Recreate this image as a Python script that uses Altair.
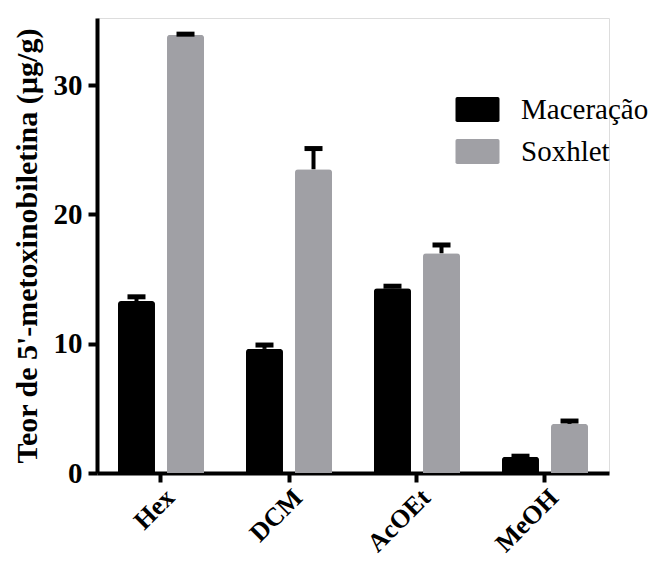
import altair as alt
import pandas as pd

categories = ["Hex", "DCM", "AcOEt", "MeOH"]
methods = ["Maceração", "Soxhlet"]
maceracao = [13.3, 9.6, 14.3, 1.25]
maceracao_err = [0.33, 0.3, 0.15, 0.05]
soxhlet = [33.9, 23.5, 17.0, 3.8]
soxhlet_err = [0.05, 1.6, 0.64, 0.22]
y_ticks = [0, 10, 20, 30]

rows = []
for i, c in enumerate(categories):
    rows.append({"cat": c, "method": methods[0], "value": maceracao[i],
                 "upper": maceracao[i] + maceracao_err[i]})
    rows.append({"cat": c, "method": methods[1], "value": soxhlet[i],
                 "upper": soxhlet[i] + soxhlet_err[i]})
df = pd.DataFrame(rows)

FONT = "Liberation Serif"

x_enc = alt.X("cat:N", sort=categories,
              scale=alt.Scale(paddingInner=0.328, paddingOuter=0.164),
              axis=alt.Axis(title=None, labelAngle=-45, labelFontSize=26,
                            labelFontWeight="bold", labelFont=FONT,
                            labelColor="black", domainColor="black",
                            domainWidth=4, tickColor="black", tickWidth=4,
                            tickSize=9, labelPadding=2, grid=False))
xo_enc = alt.XOffset("method:N", sort=methods,
                     scale=alt.Scale(paddingInner=0.245, paddingOuter=0))

y_scale = alt.Scale(domain=[0, 35.2], nice=False)

base = alt.Chart(df).encode(x=x_enc, xOffset=xo_enc)

bars = base.mark_bar(cornerRadiusTopLeft=3, cornerRadiusTopRight=3).encode(
    y=alt.Y("value:Q", scale=y_scale,
            axis=alt.Axis(title="Teor de 5'-metoxinobiletina (µg/g)",
                          titleFontSize=30, titleFontWeight="bold",
                          titleFont=FONT, titleColor="black", titlePadding=11,
                          values=y_ticks, labelFontSize=29,
                          labelFontWeight="bold", labelFont=FONT,
                          labelColor="black", labelPadding=6,
                          domainColor="black", domainWidth=4,
                          tickColor="black", tickWidth=4, tickSize=9,
                          grid=False)),
    color=alt.Color("method:N", sort=methods,
                    scale=alt.Scale(domain=methods, range=["#000000", "#a0a0a5"]),
                    legend=alt.Legend(title=None, orient="none", legendX=366,
                                      legendY=77, padding=0,
                                      symbolType="M-1.76,-0.86 Q-1.76,-1 -1.62,-1 H1.62 Q1.76,-1 1.76,-0.86 V0.86 Q1.76,1 1.62,1 H-1.62 Q-1.76,1 -1.76,0.86 Z",
                                      symbolSize=625, symbolStrokeWidth=0,
                                      symbolOpacity=1, labelFontSize=29,
                                      labelFont=FONT, labelColor="black",
                                      labelOffset=29, rowPadding=12)),
)

rules = base.mark_rule(color="black", strokeWidth=4, opacity=1).encode(
    y=alt.Y("value:Q", scale=y_scale), y2="upper:Q")

caps = base.mark_tick(color="black", thickness=5, size=18, opacity=1).encode(
    y=alt.Y("upper:Q", scale=y_scale))

chart = (bars + rules + caps).properties(
    width=512, height=455,
    autosize=alt.AutoSizeParams(type="none"),
    padding={"left": 89, "top": 10, "right": 41, "bottom": 86},
).configure_view(stroke=None).configure(font=FONT).configure_legend(
    labelFont=FONT, labelFontSize=29, labelColor="black"
)

chart.save("out.html", embed_options={"renderer": "svg", "actions": False})
